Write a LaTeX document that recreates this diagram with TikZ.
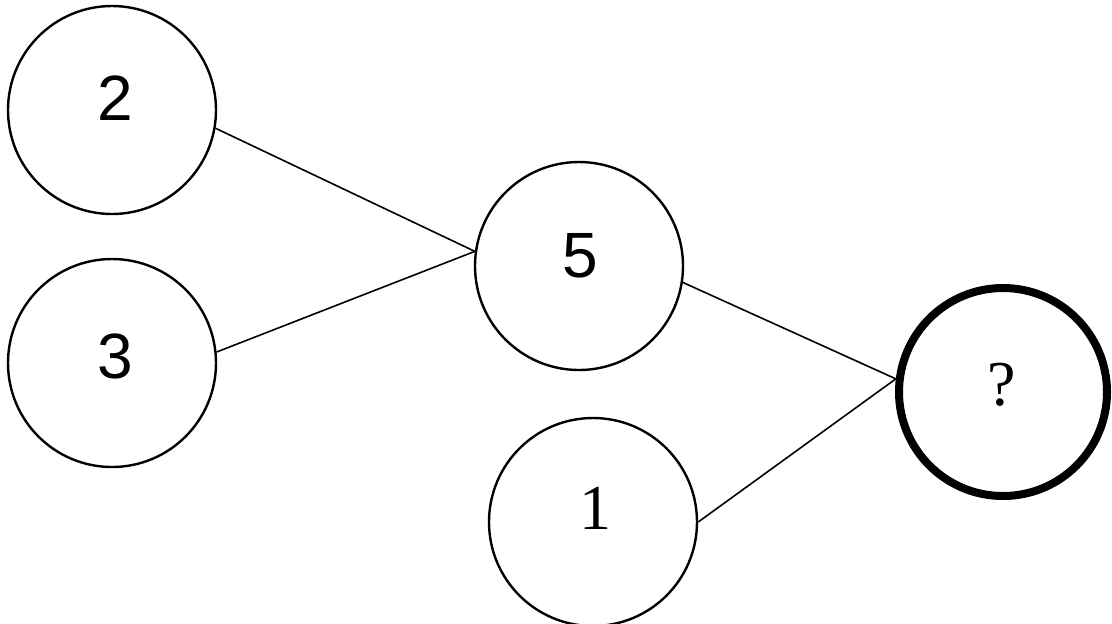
\documentclass[tikz,border=0pt]{standalone}
\usepackage{fontspec}
\setsansfont{Liberation Sans}
\setmainfont{Liberation Serif}
\tikzset{
  circ/.style={draw, circle, minimum size=104pt, inner sep=0pt, line width=1.2pt},
  thickcirc/.style={circ, line width=4pt},
  num/.style={font=\sffamily\fontsize{32}{36}\selectfont, inner sep=0pt},
  numserif/.style={font=\rmfamily\fontsize{32}{38}\selectfont, inner sep=0pt},
  link/.style={line width=0.8pt}
}
\begin{document}
\begin{tikzpicture}[x=0.5pt,y=-0.5pt]
\useasboundingbox (0,0) rectangle (1112,623);
\clip (0,0) rectangle (1112,623);
\node[circ] (n2) at (112,110) {};
\node[circ] (n3) at (112,363) {};
\node[circ] (n5) at (579,266) {};
\node[circ] (n1) at (593,522) {};
\node[thickcirc] (nq) at (1003,392) {};
\node[num] (t2) at (115,98) {2};
\node[num] (t3) at (115,356) {3};
\node[num] (t5) at (580,256) {5};
\node[numserif] (t1) at (595,508) {1};
\node[numserif] (tq) at (1002,385) {?};
\draw[link] (n2.-10.5) -- (n5.172.5);
\draw[link] (n3.6) -- (n5.172.5);
\draw[link] (n5.-9) -- (nq.173.5);
\draw[link] (n1.0) -- (nq.173.5);
\end{tikzpicture}
\end{document}
